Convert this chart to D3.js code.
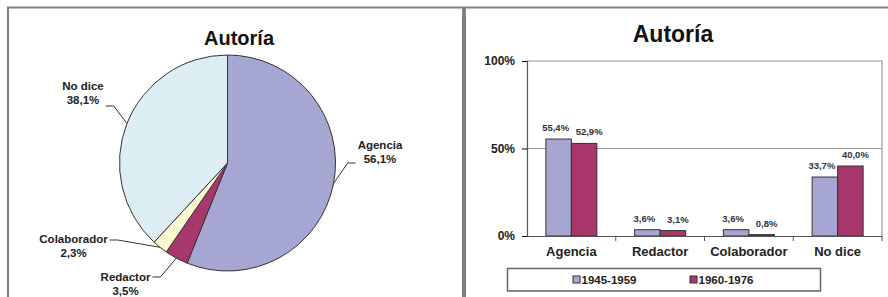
<!DOCTYPE html>
<html>
<head>
<meta charset="utf-8">
<script src="https://cdn.jsdelivr.net/npm/d3@7"></script>
<style>
  body { margin: 0; background: #fff; }
  svg { display: block; font-family: Arial, "Liberation Sans", sans-serif; }
</style>
</head>
<body>
<div id="chart"></div>
<script>
// data
var pieLabels = ["Agencia", "Redactor", "Colaborador", "No dice"];
var pieValues = [56.1, 3.5, 2.3, 38.1];

var barCategories = ["Agencia", "Redactor", "Colaborador", "No dice"];
var seriesNames = ["1945-1959", "1960-1976"];
var values1945 = [55.4, 3.6, 3.6, 33.7];
var values1960 = [52.9, 3.1, 0.8, 40.0];
var yTicks = [0, 50, 100];

var pieColors = ["#a6a6d2", "#a8386c", "#fdf8d0", "#dcedf4"];
var barColors = ["#a6a6d2", "#a8386c"];

var es = d3.formatLocale({decimal: ",", thousands: ".", grouping: [3], currency: ["", "€"]});
var pct = function(v) { return es.format(".1f")(v) + "%"; };

var svg = d3.select("#chart").append("svg")
    .attr("width", 888)
    .attr("height", 297);

// panel frames
svg.append("rect").attr("x", 8).attr("y", 7.5).attr("width", 455).attr("height", 300)
    .attr("fill", "none").attr("stroke", "#808080").attr("stroke-width", 2);
svg.append("rect").attr("x", 465).attr("y", 7.5).attr("width", 430).attr("height", 300)
    .attr("fill", "none").attr("stroke", "#808080").attr("stroke-width", 2);

// ---------- pie ----------
var cx = 227.5, cy = 163, r = 108;
var gp = svg.append("g").attr("transform", "translate(" + cx + "," + cy + ")");

svg.append("text")
    .attr("x", 239).attr("y", 45)
    .attr("text-anchor", "middle")
    .style("font-size", "20px").style("font-weight", "bold").attr("fill", "#111")
    .text("Autoría");

var pie = d3.pie().sort(null).value(function(d) { return d.value; });
var arcs = pie(pieLabels.map(function(l, i) { return {label: l, value: pieValues[i]}; }));
var arc = d3.arc().innerRadius(0).outerRadius(r);
var edgeArc = d3.arc().innerRadius(r).outerRadius(r);

gp.selectAll("path.slice")
    .data(arcs)
    .enter().append("path")
    .attr("class", "slice")
    .attr("d", arc)
    .attr("fill", function(d, i) { return pieColors[i]; })
    .attr("stroke", "#333")
    .attr("stroke-width", 1);

// label layout: label centre relative to pie centre, side the leader enters, leader height
var labelLayout = {
  "Agencia":     {dx: 152.5, dy: -11,   side: -1, ly: 11},
  "Redactor":    {dx: -102,  dy: 120.5, side: 1,  ly: -6.5},
  "Colaborador": {dx: -154,  dy: 82.5,  side: 1,  ly: -5.5},
  "No dice":     {dx: -144.5, dy: -70,  side: 1,  ly: 13}
};

var lab = gp.selectAll("g.plabel")
    .data(arcs)
    .enter().append("g")
    .attr("class", "plabel");

lab.each(function(d) {
  var g = d3.select(this), L = labelLayout[d.data.label];
  var t = g.append("text")
      .attr("text-anchor", "middle")
      .style("font-size", "11.5px").style("font-weight", "bold").attr("fill", "#222");
  t.append("tspan").attr("x", L.dx).attr("y", L.dy - 3).text(d.data.label);
  t.append("tspan").attr("x", L.dx).attr("y", L.dy + 11).text(pct(d.data.value));
  var hw = 0;
  t.selectAll("tspan").each(function() { hw = Math.max(hw, this.getComputedTextLength() / 2); });
  var start = edgeArc.centroid(d);
  var endX = L.dx + L.side * (hw + 2), endY = L.dy + L.ly;
  var elbowX = endX + L.side * 8;
  g.append("path")
      .attr("d", d3.line()([start, [elbowX, endY], [endX, endY]]))
      .attr("fill", "none").attr("stroke", "#333").attr("stroke-width", 1);
});

// ---------- grouped bars ----------
var x0 = d3.scaleBand().domain(barCategories).range([527, 882]);
var x1 = d3.scaleBand().domain(seriesNames).range([0, x0.bandwidth()]).paddingOuter(0.74);
var y = d3.scaleLinear().domain([0, 100]).range([236, 61]);

svg.append("text")
    .attr("x", 673).attr("y", 42)
    .attr("text-anchor", "middle")
    .style("font-size", "23px").style("font-weight", "bold").attr("fill", "#111")
    .text("Autoría");

// plot frame top / right and gridline
svg.append("path")
    .attr("d", "M527," + y(100) + "H882V" + y(0))
    .attr("fill", "none").attr("stroke", "#9a9a9a").attr("stroke-width", 1.2);
svg.append("line")
    .attr("x1", 527).attr("x2", 882).attr("y1", y(50)).attr("y2", y(50))
    .attr("stroke", "#9a9a9a").attr("stroke-width", 1.2);

var rows = barCategories.map(function(c, i) {
  return {cat: c, vals: [{s: seriesNames[0], v: values1945[i]}, {s: seriesNames[1], v: values1960[i]}]};
});

var grp = svg.selectAll("g.grp")
    .data(rows)
    .enter().append("g")
    .attr("class", "grp")
    .attr("transform", function(d) { return "translate(" + x0(d.cat) + ",0)"; });

grp.selectAll("rect")
    .data(function(d) { return d.vals; })
    .enter().append("rect")
    .attr("x", function(d) { return x1(d.s); })
    .attr("y", function(d) { return y(d.v); })
    .attr("width", x1.bandwidth())
    .attr("height", function(d) { return y(0) - y(d.v); })
    .attr("fill", function(d, i) { return barColors[i]; })
    .attr("stroke", "#333")
    .attr("stroke-width", 1);

// labels nudged apart like the original
var nudge = [-3, 5];
grp.selectAll("text.val")
    .data(function(d) { return d.vals; })
    .enter().append("text")
    .attr("class", "val")
    .attr("x", function(d, i) { return x1(d.s) + x1.bandwidth() / 2 + nudge[i]; })
    .attr("y", function(d) { return y(d.v) - 8; })
    .attr("text-anchor", "middle")
    .style("font-size", "9.5px").style("font-weight", "bold").attr("fill", "#333")
    .text(function(d) { return pct(d.v); });

// axes
var yAxis = svg.append("g")
    .attr("transform", "translate(527,0)")
    .call(d3.axisLeft(y).tickValues(yTicks).tickSize(5).tickPadding(7)
      .tickFormat(function(d) { return d + "%"; }));
yAxis.selectAll("text").style("font-size", "12px").style("font-weight", "bold").attr("fill", "#222");

var xAxis = svg.append("g")
    .attr("transform", "translate(0," + y(0) + ")")
    .call(d3.axisBottom(x0).tickSize(0).tickPadding(11));
xAxis.selectAll("text").style("font-size", "13px").style("font-weight", "bold").attr("fill", "#222");
xAxis.selectAll(".tick line").remove();
xAxis.selectAll(".sep")
    .data(barCategories.slice(1).concat([null]))
    .enter().append("line")
    .attr("class", "sep")
    .attr("x1", function(d) { return d ? x0(d) : x0.range()[1]; })
    .attr("x2", function(d) { return d ? x0(d) : x0.range()[1]; })
    .attr("y1", 0).attr("y2", 5)
    .attr("stroke", "#555");
svg.selectAll(".domain").attr("stroke", "#555").attr("stroke-width", 1.2);

// legend
var lg = svg.append("g");
lg.append("rect").attr("x", 507.5).attr("y", 268.5).attr("width", 313).attr("height", 22.5)
    .attr("fill", "#fff").attr("stroke", "#666").attr("stroke-width", 1.5);
var items = lg.selectAll("g.item")
    .data(seriesNames)
    .enter().append("g")
    .attr("class", "item")
    .attr("transform", function(d, i) { return "translate(" + [573, 690][i] + ",276)"; });
items.append("rect").attr("width", 7).attr("height", 7)
    .attr("fill", function(d, i) { return barColors[i]; })
    .attr("stroke", "#333").attr("stroke-width", 1);
items.append("text").attr("x", 8.5).attr("y", 8)
    .style("font-size", "11.5px").style("font-weight", "bold").attr("fill", "#222")
    .text(function(d) { return d; });
</script>
</body>
</html>
